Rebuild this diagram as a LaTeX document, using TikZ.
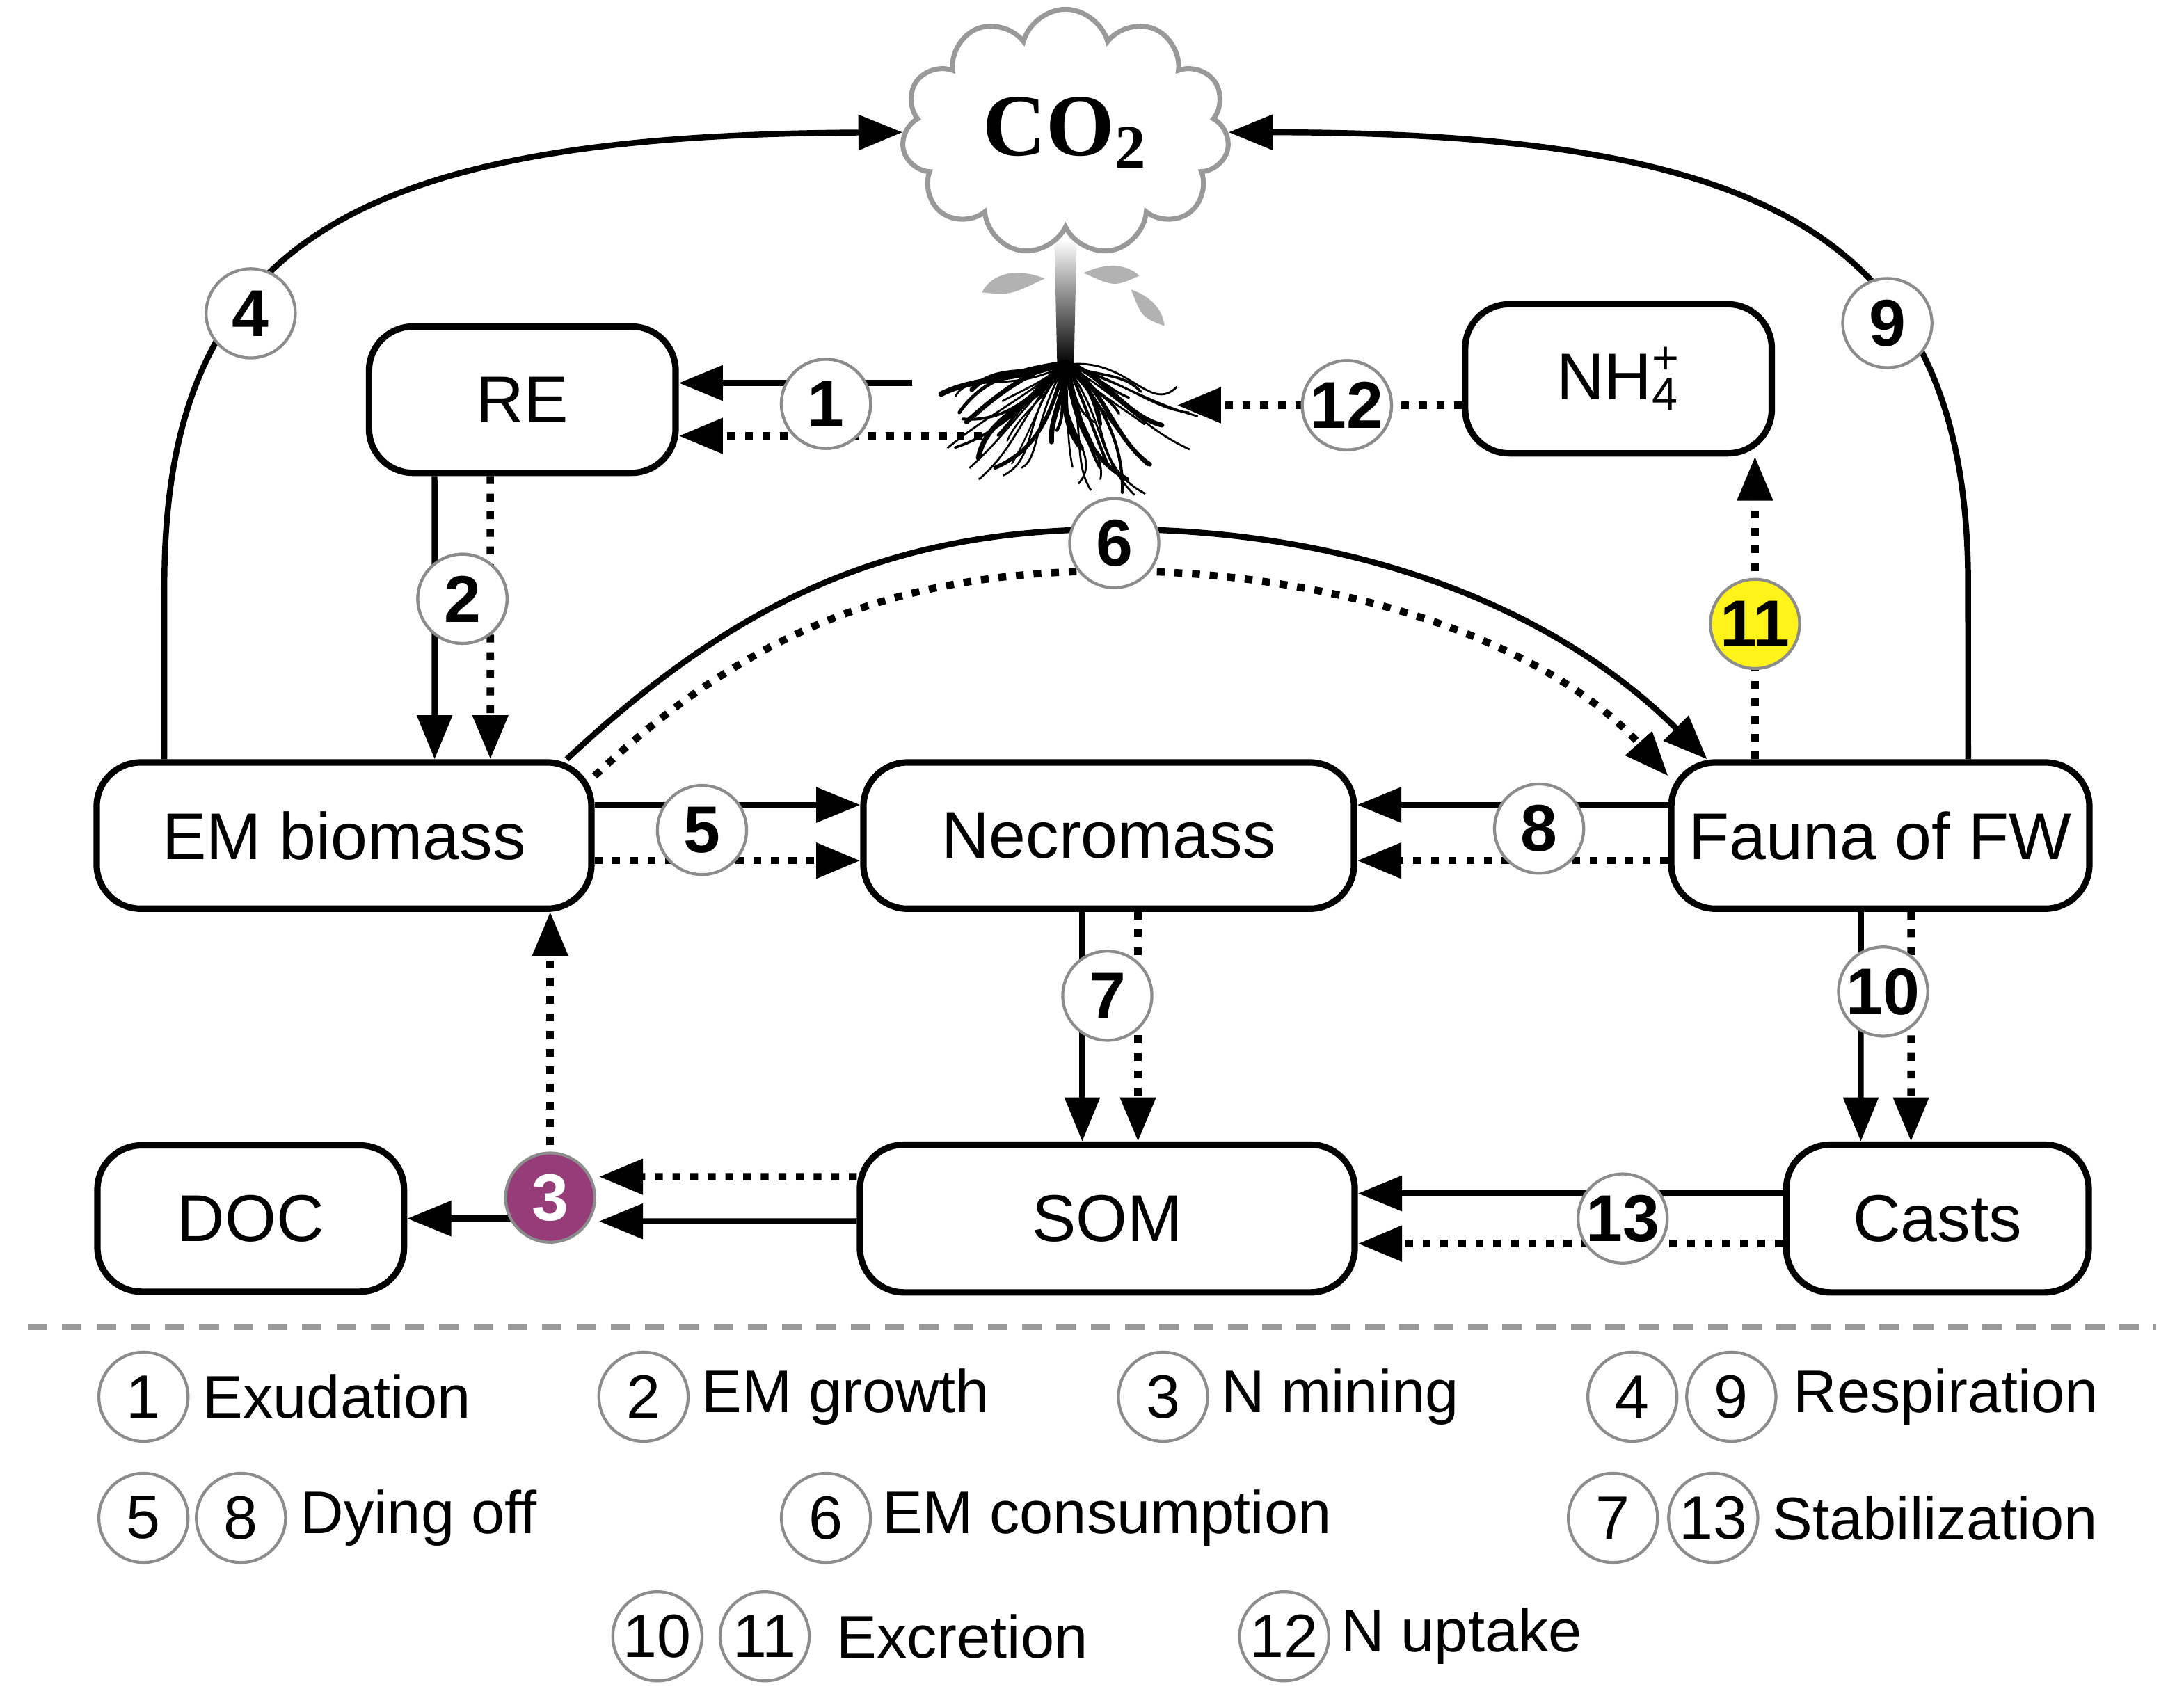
\documentclass[tikz,border=0pt]{standalone}
\usepackage{fontspec}
\setmainfont{Liberation Sans}
\newfontfamily\serifco{Liberation Serif}
\usetikzlibrary{arrows.meta,shapes.symbols,calc}
\begin{document}
\begin{tikzpicture}[x=0.01cm,y=-0.01cm,
  box/.style={draw,line width=1.3pt,rounded corners=9pt,font=\fontsize{13.5}{16}\selectfont,inner sep=0pt},
  num/.style={circle,draw=black!45,line width=0.6pt,fill=white,minimum size=0.64cm,inner sep=0pt,font=\fontsize{13.5}{16}\selectfont\bfseries},
  leg/.style={circle,draw=black!45,line width=0.6pt,fill=white,minimum size=0.64cm,inner sep=0pt,font=\fontsize{12.5}{15}\selectfont},
  lt/.style={anchor=west,inner sep=0pt,font=\fontsize{12.3}{15}\selectfont},
  ar/.style={line width=1.2pt,-{Triangle[length=9pt,width=7pt]}},
  dt/.style={line width=1.5pt,dash pattern=on 1.6pt off 2pt,-{Triangle[length=9pt,width=7pt]}},
  dtn/.style={line width=1.5pt,dash pattern=on 1.6pt off 2pt},
  sl/.style={line width=1.2pt}]
\useasboundingbox (0,0) rectangle (1568,1224);
% boxes
\node[box,minimum width=2.2cm,minimum height=1.05cm] (re) at (375,287) {RE};
\node[box,minimum width=2.2cm,minimum height=1.07cm] (nh) at (1162,272) {NH\rlap{\textsuperscript{+}}\textsubscript{4}};
\node[box,minimum width=3.55cm,minimum height=1.05cm] (em) at (247,600) {EM biomass};
\node[box,minimum width=3.52cm,minimum height=1.05cm] (ne) at (796,600) {Necromass};
\node[box,minimum width=3.0cm,minimum height=1.05cm] (fa) at (1350,600) {Fauna of FW};
\node[box,minimum width=2.2cm,minimum height=1.05cm] (doc) at (180,875) {DOC};
\node[box,minimum width=3.55cm,minimum height=1.06cm] (som) at (795,875) {SOM};
\node[box,minimum width=2.17cm,minimum height=1.06cm] (ca) at (1391,875) {Casts};
% tree
\shade[top color=white,bottom color=black] (757,172) -- (773,172) -- (771,262) -- (759,262) -- cycle;
\fill[black!30] (750,200) .. controls (730,192) and (712,196) .. (705,210) .. controls (725,212) .. (750,200);
\fill[black!30] (778,196) .. controls (795,188) and (810,190) .. (818,198) .. controls (800,206) .. (778,196);
\fill[black!30] (812,208) .. controls (825,212) and (835,222) .. (836,234) .. controls (820,228) .. (812,208);
\pgfmathsetseed{7}
\foreach \i in {1,...,30}{
  \pgfmathsetmacro{\ang}{12+156*rnd}
  \pgfmathsetmacro{\len}{45+60*rnd}
  \pgfmathsetmacro{\wa}{40*rnd-20}
  \pgfmathsetmacro{\wb}{40*rnd-20}
  \pgfmathsetmacro{\lw}{0.3+0.9*rnd}
  \draw[line width=\lw pt,line cap=round] (765,260) .. controls ($(765,260)+(\ang+\wa:0.35*\len)$) and ($(765,260)+(\ang+\wb:0.7*\len)$) .. ($(765,260)+(\ang:\len)$);
}
\foreach \i in {1,...,16}{
  \pgfmathsetmacro{\ang}{8+164*rnd}
  \pgfmathsetmacro{\len}{80+30*rnd}
  \pgfmathsetmacro{\wa}{50*rnd-25}
  \draw[line width=0.4pt] (765,262) .. controls ($(765,262)+(\ang+\wa:45)$) and ($(765,262)+(\ang-\wa:70)$) .. ($(765,262)+(\ang:\len)$);
}
% cloud
\node[cloud,cloud puffs=11,aspect=1.45,draw=black!40,line width=1pt,fill=white,minimum width=2.35cm,minimum height=1.6cm,font=\serifco\fontsize{18}{20}\selectfont\bfseries] (co2) at (765,95) {CO\textsubscript{2}};
% number circles
\node[num] (n1) at (593,290) {1};
\node[num] (n2) at (332,430) {2};
\coordinate (n3) at (395,860);
\coordinate (n11) at (1260,448);
\node[num] (n12) at (967,291) {12};
% arrows
\coordinate (r1s) at (655,275); \coordinate (r1d) at (705,313);
\draw[ar] (r1s) -- (re.east |- r1s);
\draw[dt] (r1d) -- (re.east |- r1d);
\node[num] at (n1) {1};
\coordinate (r12) at (845,291);
\draw[dt] (nh.west |- r12) -- (r12);
\node[num] at (n12) {12};
\draw[ar] ([xshift=-0.63cm]re.south) -- ([xshift=0.65cm]em.north);
\draw[dt] ([xshift=-0.23cm]re.south) -- ([xshift=1.05cm]em.north);
\node[num] at (n2) {2};
\draw[sl,-{Triangle[length=9pt,width=7pt]}] ([xshift=-1.29cm]em.north) -- (118,420) .. controls (118,170) and (260,97) .. (co2.west);
\node[num] at (180,225) {4};
\draw[sl,-{Triangle[length=9pt,width=7pt]}] ([xshift=0.63cm]fa.north) -- (1413,420) .. controls (1413,170) and (1270,95) .. (co2.east);
\node[num] at (1355,232) {9};
\draw[ar] ([xshift=-0.2cm]em.north east) .. controls (530,430) and (640,380) .. (800,380) .. controls (980,380) and (1120,440) .. ([xshift=0.28cm]fa.north west);
\draw[dt] ([yshift=-0.12cm]em.north east) .. controls (540,450) and (650,410) .. (800,410) .. controls (960,410) and (1110,460) .. ([yshift=-0.12cm]fa.north west);
\node[num] at (800,390) {6};
\draw[ar] ([yshift=0.22cm]em.east) -- ([yshift=0.22cm]ne.west);
\draw[dt] ([yshift=-0.18cm]em.east) -- ([yshift=-0.18cm]ne.west);
\node[num] at (504,596) {5};
\draw[ar] ([yshift=0.22cm]fa.west) -- ([yshift=0.22cm]ne.east);
\draw[dt] ([yshift=-0.18cm]fa.west) -- ([yshift=-0.18cm]ne.east);
\node[num] at (1105,595) {8};
\draw[ar] ([xshift=-0.19cm]ne.south) -- ([xshift=-0.18cm]som.north);
\draw[dt] ([xshift=0.21cm]ne.south) -- ([xshift=0.22cm]som.north);
\node[num] at (795,715) {7};
\draw[ar] ([xshift=-0.14cm]fa.south) -- ([xshift=-0.55cm]ca.north);
\draw[dt] ([xshift=0.22cm]fa.south) -- ([xshift=-0.19cm]ca.north);
\node[num] at (1352,712) {10};
\draw[dt] (n11) -- (nh.south -| n11);
\draw[dtn] (fa.north -| n11) -- (n11);
\node[num,fill=yellow!90!white] at (n11) {11};
\draw[ar] ([yshift=0.18cm]ca.west) -- ([yshift=0.18cm]som.east);
\draw[dt] ([yshift=-0.18cm]ca.west) -- ([yshift=-0.18cm]som.east);
\node[num] at (1165,875) {13};
\draw[ar] ([yshift=-0.02cm]som.west) -- (430,877);
\draw[dt] ([yshift=0.3cm]som.west) -- (430,845);
\draw[ar] (n3 |- doc.east) -- (doc.east);
\draw[dt] (n3) -- (n3 |- em.south);
\node[num,fill={rgb,255:red,150;green,60;blue,120},text=white] at (n3) {3};
% legend
\draw[black!40,line width=1.2pt,dash pattern=on 4pt off 3pt] (20,953) -- (1548,953);
\node[leg] (l1) at (103,1003) {1}; \node[lt] at (145,1003) {Exudation};
\node[leg] (l2) at (462,1003) {2}; \node[lt] at (503,1003) {EM growth};
\node[leg] (l3) at (835,1003) {3}; \node[lt] at (876,1003) {N mining};
\node[leg] (l4) at (1172,1003) {4}; \node[leg] (l9) at (1243,1003) {9}; \node[lt] at (1287,1003) {Respiration};
\node[leg] (l5) at (103,1090) {5}; \node[leg] (l8) at (173,1090) {8}; \node[lt] at (215,1090) {Dying off};
\node[leg] (l6) at (593,1090) {6}; \node[lt] at (633,1090) {EM consumption};
\node[leg] (l7) at (1158,1090) {7}; \node[leg] (l13) at (1230,1090) {13}; \node[lt] at (1272,1090) {Stabilization};
\node[leg] (l10) at (472,1175) {10}; \node[leg] (l11) at (549,1175) {11}; \node[lt] at (600,1175) {Excretion};
\node[leg] (l12) at (922,1175) {12}; \node[lt] at (962,1175) {N uptake};
\end{tikzpicture}
\end{document}
